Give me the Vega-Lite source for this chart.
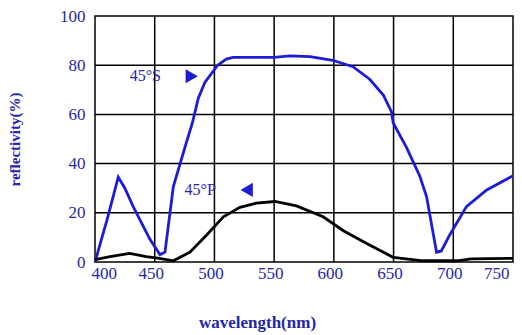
{
  "$schema": "https://vega.github.io/schema/vega-lite/v6.json",
  "width": 418,
  "height": 246,
  "autosize": {"type": "none"},
  "padding": {"left": 95, "top": 16, "right": 9, "bottom": 73},
  "background": "white",
  "config": {
    "view": {"stroke": "black", "strokeWidth": 1.5},
    "font": "Liberation Serif"
  },
  "datasets": {
    "curves": [
      {"wl": 450, "r": 0, "kind": "grid", "series": "v450"}, {"wl": 450, "r": 100, "kind": "grid", "series": "v450"},
      {"wl": 500, "r": 0, "kind": "grid", "series": "v500"}, {"wl": 500, "r": 100, "kind": "grid", "series": "v500"},
      {"wl": 550, "r": 0, "kind": "grid", "series": "v550"}, {"wl": 550, "r": 100, "kind": "grid", "series": "v550"},
      {"wl": 600, "r": 0, "kind": "grid", "series": "v600"}, {"wl": 600, "r": 100, "kind": "grid", "series": "v600"},
      {"wl": 650, "r": 0, "kind": "grid", "series": "v650"}, {"wl": 650, "r": 100, "kind": "grid", "series": "v650"},
      {"wl": 700, "r": 0, "kind": "grid", "series": "v700"}, {"wl": 700, "r": 100, "kind": "grid", "series": "v700"},
      {"wl": 400, "r": 20, "kind": "grid", "series": "h20"}, {"wl": 750, "r": 20, "kind": "grid", "series": "h20"},
      {"wl": 400, "r": 40, "kind": "grid", "series": "h40"}, {"wl": 750, "r": 40, "kind": "grid", "series": "h40"},
      {"wl": 400, "r": 60, "kind": "grid", "series": "h60"}, {"wl": 750, "r": 60, "kind": "grid", "series": "h60"},
      {"wl": 400, "r": 80, "kind": "grid", "series": "h80"}, {"wl": 750, "r": 80, "kind": "grid", "series": "h80"},
      {"wl": 400, "r": 0, "kind": "S", "series": "S"},
      {"wl": 410, "r": 17, "kind": "S", "series": "S"},
      {"wl": 419.5, "r": 34.5, "kind": "S", "series": "S"},
      {"wl": 425, "r": 30, "kind": "S", "series": "S"},
      {"wl": 432, "r": 22.5, "kind": "S", "series": "S"},
      {"wl": 446, "r": 9.2, "kind": "S", "series": "S"},
      {"wl": 454.4, "r": 3, "kind": "S", "series": "S"},
      {"wl": 458.6, "r": 4, "kind": "S", "series": "S"},
      {"wl": 465.6, "r": 30.7, "kind": "S", "series": "S"},
      {"wl": 476.8, "r": 49, "kind": "S", "series": "S"},
      {"wl": 481.5, "r": 56.5, "kind": "S", "series": "S"},
      {"wl": 486.5, "r": 66.6, "kind": "S", "series": "S"},
      {"wl": 492, "r": 73, "kind": "S", "series": "S"},
      {"wl": 502.7, "r": 80, "kind": "S", "series": "S"},
      {"wl": 510, "r": 82.5, "kind": "S", "series": "S"},
      {"wl": 515.5, "r": 83.2, "kind": "S", "series": "S"},
      {"wl": 550, "r": 83.2, "kind": "S", "series": "S"},
      {"wl": 563, "r": 83.8, "kind": "S", "series": "S"},
      {"wl": 580, "r": 83.5, "kind": "S", "series": "S"},
      {"wl": 599, "r": 82, "kind": "S", "series": "S"},
      {"wl": 616, "r": 79.4, "kind": "S", "series": "S"},
      {"wl": 630, "r": 74.3, "kind": "S", "series": "S"},
      {"wl": 641.4, "r": 67.9, "kind": "S", "series": "S"},
      {"wl": 648.3, "r": 61, "kind": "S", "series": "S"},
      {"wl": 649.7, "r": 56.5, "kind": "S", "series": "S"},
      {"wl": 660.9, "r": 46.5, "kind": "S", "series": "S"},
      {"wl": 672, "r": 34.9, "kind": "S", "series": "S"},
      {"wl": 677.6, "r": 26.6, "kind": "S", "series": "S"},
      {"wl": 686, "r": 4, "kind": "S", "series": "S"},
      {"wl": 690, "r": 4.5, "kind": "S", "series": "S"},
      {"wl": 697, "r": 11, "kind": "S", "series": "S"},
      {"wl": 711, "r": 22.5, "kind": "S", "series": "S"},
      {"wl": 728, "r": 29.3, "kind": "S", "series": "S"},
      {"wl": 749.7, "r": 35, "kind": "S", "series": "S"},
      {"wl": 400, "r": 1, "kind": "P", "series": "P"},
      {"wl": 412.6, "r": 2.2, "kind": "P", "series": "P"},
      {"wl": 429, "r": 3.5, "kind": "P", "series": "P"},
      {"wl": 443, "r": 2.2, "kind": "P", "series": "P"},
      {"wl": 454, "r": 1.5, "kind": "P", "series": "P"},
      {"wl": 465.6, "r": 0.5, "kind": "P", "series": "P"},
      {"wl": 479.5, "r": 4, "kind": "P", "series": "P"},
      {"wl": 493.5, "r": 11, "kind": "P", "series": "P"},
      {"wl": 507.5, "r": 18.4, "kind": "P", "series": "P"},
      {"wl": 521.4, "r": 22.2, "kind": "P", "series": "P"},
      {"wl": 535, "r": 23.9, "kind": "P", "series": "P"},
      {"wl": 550.7, "r": 24.6, "kind": "P", "series": "P"},
      {"wl": 568.7, "r": 22.8, "kind": "P", "series": "P"},
      {"wl": 591, "r": 18.4, "kind": "P", "series": "P"},
      {"wl": 608, "r": 12.7, "kind": "P", "series": "P"},
      {"wl": 627.5, "r": 7.5, "kind": "P", "series": "P"},
      {"wl": 649.7, "r": 1.9, "kind": "P", "series": "P"},
      {"wl": 674.8, "r": 0.5, "kind": "P", "series": "P"},
      {"wl": 703, "r": 0.5, "kind": "P", "series": "P"},
      {"wl": 715, "r": 1.3, "kind": "P", "series": "P"},
      {"wl": 750, "r": 1.5, "kind": "P", "series": "P"}
    ],
    "labels": [
      {"wl": 429, "r": 75.5, "text": "45°S"},
      {"wl": 475, "r": 29.3, "text": "45°P"}
    ],
    "arrows": [
      {"wl": 481, "r": 75.5, "dir": "right"},
      {"wl": 527, "r": 29.3, "dir": "left"}
    ]
  },
  "encoding": {
    "x": {
      "field": "wl", "type": "quantitative",
      "scale": {"domain": [400, 750], "nice": false, "zero": false},
      "axis": {
        "values": [400, 450, 500, 550, 600, 650, 700, 750],
        "grid": false,
        "domain": false, "ticks": false,
        "labelColor": "#2626a8", "labelFontSize": 17, "labelPadding": 3,
        "labelOffset": -4,
        "title": "wavelength(nm)", "titleColor": "#2626a8", "titleFontSize": 17,
        "titleFontWeight": "bold", "titleX": 162, "titleY": 52, "titleAnchor": "middle"
      }
    },
    "y": {
      "field": "r", "type": "quantitative",
      "scale": {"domain": [0, 100], "nice": false},
      "axis": {
        "values": [0, 20, 40, 60, 80, 100],
        "grid": false,
        "domain": false, "ticks": false,
        "labelColor": "#2626a8", "labelFontSize": 17, "labelPadding": 10,
        "title": "reflectivity(%)", "titleColor": "#2626a8", "titleFontSize": 15,
        "titleFontWeight": "bold", "titleX": -73, "titleY": 123, "titleAnchor": "middle"
      }
    }
  },
  "layer": [
    {
      "data": {"name": "curves"},
      "mark": {"type": "line"},
      "encoding": {
        "color": {
          "field": "kind", "type": "nominal",
          "scale": {"domain": ["grid", "S", "P"], "range": ["#000000", "#1c1cd4", "#000000"]},
          "legend": null
        },
        "strokeWidth": {
          "condition": {"test": "datum.kind === 'grid'", "value": 1.5},
          "value": 2.8
        },
        "detail": {"field": "series"}
      }
    },
    {
      "data": {"name": "labels"},
      "mark": {"type": "text", "align": "left", "baseline": "middle", "fontSize": 16, "color": "#2626a8"},
      "encoding": {
        "text": {"field": "text"}
      }
    },
    {
      "data": {"name": "arrows"},
      "mark": {"type": "point", "filled": true, "size": 200, "opacity": 1},
      "encoding": {
        "shape": {
          "field": "dir", "type": "nominal",
          "scale": {"domain": ["right", "left"], "range": ["triangle-right", "triangle-left"]},
          "legend": null
        },
        "color": {"value": "#1c1cd4"}
      }
    }
  ]
}
